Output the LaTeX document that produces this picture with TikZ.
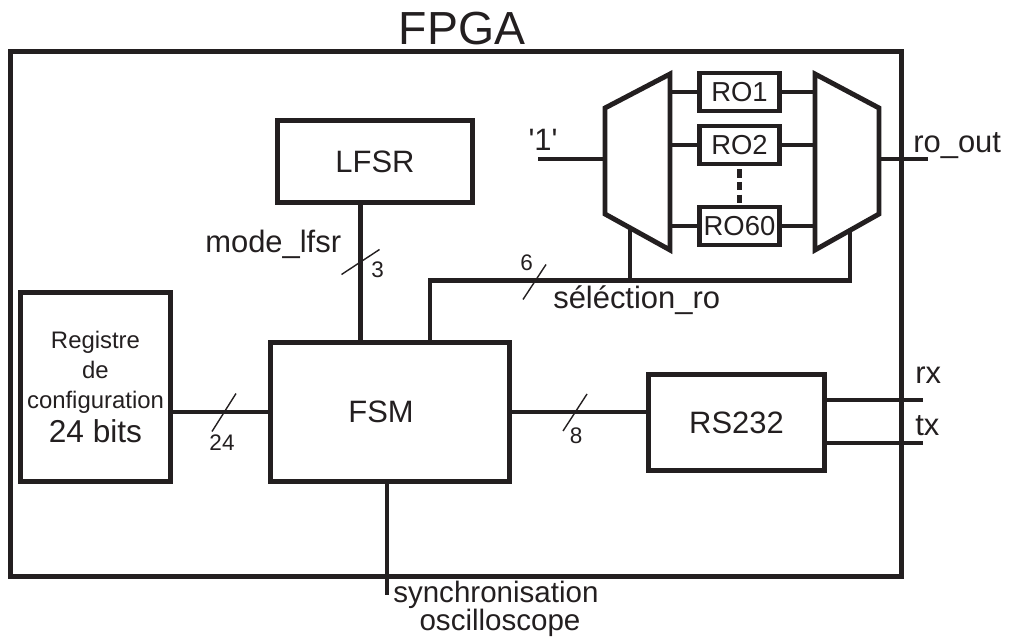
\documentclass[tikz,border=0pt]{standalone}
\usepackage{fontspec}
\setmainfont{Liberation Sans}
\definecolor{ink}{RGB}{35,31,32}
\tikzset{
  blk/.style={draw=ink,line width=3.5pt,inner sep=0pt,text=ink,font=\fontsize{22}{26}\selectfont},
  wire/.style={draw=ink,line width=3.5pt},
  bus/.style={draw=ink,line width=1pt},
  lbl/.style={text=ink,inner sep=0pt,font=\fontsize{22}{26}\selectfont},
  num/.style={text=ink,inner sep=0pt,font=\fontsize{16}{19}\selectfont},
  rob/.style={blk,minimum width=2cm,minimum height=0.95cm,font=\fontsize{19.5}{22}\selectfont},
}

\begin{document}
\begin{tikzpicture}[x=0.025cm,y=-0.025cm]
  \useasboundingbox (0,0) rectangle (1010,637);

  % BLOCKS
  \node[blk,minimum width=22.25cm,minimum height=13.1cm] (fpga) at (456,314) {};
  \node[lbl,font=\fontsize{33}{38}\selectfont,anchor=base] (fpgat) at (462,45) {FPGA};
  \node[blk,minimum width=4.875cm,minimum height=2.05cm] (lfsr) at (375,161.5) {LFSR};
  \node[blk,minimum width=5.975cm,minimum height=3.475cm] (fsm) at (390,412) {FSM\hspace*{0.45cm}};
  \node[blk,minimum width=4.4cm,minimum height=2.4cm] (rs) at (736.5,422.5) {RS232};
  \node[blk,minimum width=3.75cm,minimum height=4.725cm,align=center,
        font=\fontsize{17}{21.3}\selectfont] (reg) at (95.5,387)
    {Registre\\de\\configuration\\[3.5pt]{\fontsize{22.5}{27}\selectfont 24 bits}};
  \node[rob] (ro1)  at (739.5,92)  {RO1};
  \node[rob] (ro2)  at (739.5,145) {RO2};
  \node[rob] (ro60) at (739.5,226) {RO60};

  % MUX
  \draw[wire] (605,108) coordinate (mxa1) -- (670,74) coordinate (mxa2)
    -- (670,250) coordinate (mxa3) -- (605,214) coordinate (mxa4) -- cycle;
  \draw[wire] (815,74) coordinate (mxb1) -- (879,108) coordinate (mxb2)
    -- (879,214) coordinate (mxb3) -- (815,250) coordinate (mxb4) -- cycle;
  \foreach \r in {ro1,ro2,ro60} {
    \draw[wire] (\r.west -| mxa2) -- (\r.west);
    \draw[wire] (\r.east) -- (\r.east -| mxb1);
  }
  \draw[ink,line width=3pt,dash pattern=on 6pt off 3pt,dash phase=-2pt] (ro2.south) -- (ro60.north);

  % PATHS
  \coordinate (in1) at (538,159);
  \coordinate (out) at (928,159);
  \coordinate (ml)  at (360.5,262);
  \coordinate (sel) at (430,280.5);
  \coordinate (s1)  at (630,227.8);
  \coordinate (s2)  at (850,230.3);
  \coordinate (rx)  at (923,400);
  \coordinate (tx)  at (923,443);
  \coordinate (sync) at (387,595);

  \draw[wire] (in1) -- (in1 -| mxa1);
  \draw[wire] (out -| mxb2) -- (out);
  \draw[wire] (lfsr.south -| ml) -- (fsm.north -| ml);
  \draw[wire] (sel |- fsm.north) -- (sel) -- (sel -| s2) -- (s2);
  \draw[wire] (s1 |- sel) -- (s1);
  \draw[wire] (reg.east |- fsm) -- (fsm.west);
  \draw[wire] (fsm.east) -- (fsm.east -| rs.west);
  \draw[wire] (rx -| rs.east) -- (rx);
  \draw[wire] (tx -| rs.east) -- (tx);
  \draw[wire] (sync |- fsm.south) -- (sync);

  % BUS WIDTHS
  \draw[bus] ([shift={(-19,12.5)}]ml) -- ([shift={(19,-12.5)}]ml);
  \draw[bus] ([shift={(-11.5,17.5)}]534.5,282) -- ([shift={(11.5,-17.5)}]534.5,282);
  \draw[bus] ([shift={(-12,19)}]224,412.5) -- ([shift={(12,-19)}]224,412.5);
  \draw[bus] ([shift={(-12,18.5)}]575,412.5) -- ([shift={(12,-18.5)}]575,412.5);
  \node[num] (n3)  at (377.5,269.5) {3};
  \node[num] (n6)  at (526.5,262.5) {6};
  \node[num] (n24) at (222,443) {24};
  \node[num] (n8)  at (576,436) {8};

  % LABELS
  \node[lbl,anchor=base west] (lmode) at (205,252) {mode\_lfsr};
  \node[lbl,anchor=base west] (lsel)  at (553,308) {séléction\_ro};
  \node[lbl,anchor=base] (lone)  at (543,150) {\textquotesingle 1\textquotesingle};
  \node[lbl,anchor=base west] (lout)  at (913,152) {ro\_out};
  \node[lbl,anchor=base west] (lrx)   at (915,383) {rx};
  \node[lbl,anchor=base west] (ltx)   at (915,435) {tx};
  \node[lbl,font=\fontsize{21}{24}\selectfont,anchor=base west] (lsync) at (393,602) {synchronisation};
  \node[lbl,font=\fontsize{21}{24}\selectfont,anchor=base] (losc)  at (500,630) {oscilloscope};
\end{tikzpicture}
\end{document}
